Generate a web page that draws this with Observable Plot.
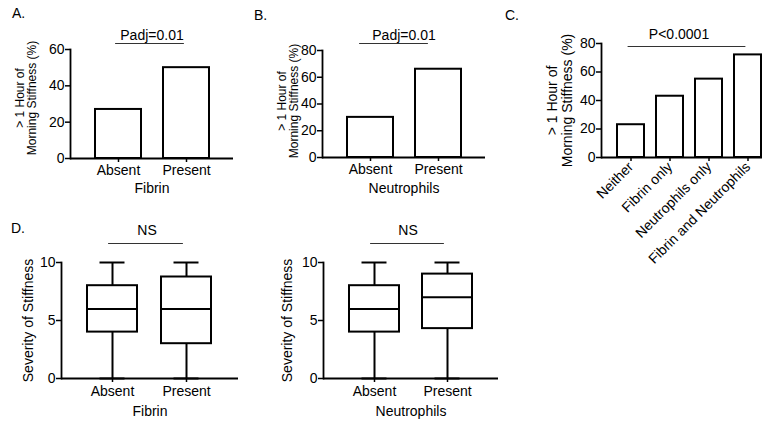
<!DOCTYPE html>
<html>
<head>
<meta charset="utf-8">
<script src="https://cdn.jsdelivr.net/npm/d3@7"></script>
<script src="https://cdn.jsdelivr.net/npm/@observablehq/plot@0.6"></script>
<style>
  html, body { margin: 0; padding: 0; background: #fff; }
  #fig { position: relative; width: 762px; height: 422px; overflow: hidden; background: #fff;
         font-family: "Liberation Sans", Arial, Helvetica, sans-serif; }
  #fig > svg, #fig > .lab { position: absolute; }
  .lab { font-size: 14px; color: #000; line-height: 1; }
</style>
</head>
<body>
<div id="fig"></div>
<script>
// ---------- data ----------
const presence = ["Absent", "Present"];
const fibrinPct = [27, 50];
const neutrophilPct = [30, 66];
const comboGroups = ["Neither", "Fibrin only", "Neutrophils only", "Fibrin and Neutrophils"];
const comboPct = [23, 43, 55, 72];

const fibrinMin = [0, 0];
const fibrinQ1 = [4, 3];
const fibrinMedian = [6, 6];
const fibrinQ3 = [8, 8.75];
const fibrinMax = [10, 10];

const neutroMin = [0, 0];
const neutroQ1 = [4, 4.3];
const neutroMedian = [6, 7];
const neutroQ3 = [8, 9];
const neutroMax = [10, 10];

const ticksA = [0, 20, 40, 60];
const ticksB = [0, 20, 40, 60, 80];
const ticksC = [0, 20, 40, 60, 80];
const ticksD = [0, 5, 10];

const stiffLabel = "> 1 Hour of\nMorning Stiffness (%)";
const severityLabel = "Severity of Stiffness";

// ---------- helpers ----------
const FONT = "Liberation Sans, Arial, Helvetica, sans-serif";
const fig = document.getElementById("fig");

function place(svg, left, top) {
  svg.style.left = left + "px";
  svg.style.top = top + "px";
  fig.appendChild(svg);
}
function letter(txt, left, top) {
  const d = document.createElement("div");
  d.className = "lab";
  d.textContent = txt;
  d.style.left = left + "px";
  d.style.top = top + "px";
  fig.appendChild(d);
}

function barPanel(o) {
  const rows = o.cats.map((c, i) => ({cat: c, v: o.vals[i]}));
  const yMax = o.ticks[o.ticks.length - 1];
  return Plot.plot({
    width: o.width, height: o.height,
    marginLeft: o.ml, marginRight: o.mr, marginTop: o.mt, marginBottom: o.mb,
    style: {fontFamily: FONT, fontSize: "14px", background: "transparent", color: "#000", overflow: "visible"},
    x: {domain: o.cats, paddingInner: o.pi, paddingOuter: o.po, align: 0.5},
    y: {domain: [0, yMax]},
    marks: [
      Plot.barY(rows, {x: "cat", y: "v", fill: "white", stroke: "black", strokeWidth: 2}),
      Plot.ruleY([0], {stroke: "black", strokeWidth: 1.8}),
      Plot.frame({anchor: "left", stroke: "black", strokeWidth: 1.8}),
      Plot.axisY({ticks: o.ticks, tickSize: 5, tickPadding: 1, label: null, strokeWidth: 1.5, fill: "black"}),
      Plot.axisX({tickSize: 4, tickPadding: o.tickPad ?? 3, label: null, strokeWidth: 1.5, fill: "black",
                  tickRotate: o.rotate ?? 0}),
      Plot.text([o.ylabel], {frameAnchor: "left", rotate: -90, dx: o.ylx, dy: o.yly,
                             textAnchor: "middle", lineAnchor: "middle",
                             fontSize: o.ylfs, lineHeight: o.ylh, fill: "black"}),
      o.xlabel ? Plot.text([o.xlabel], {frameAnchor: "bottom", dy: o.xly, lineAnchor: "middle", fill: "black"}) : null,
      Plot.line([o.cats[0], o.cats[o.cats.length - 1]], {x: d => d, y: () => yMax,
                dy: o.sigLineDy, dx: o.sigLineDx, stroke: "#333", strokeWidth: 1}),
      Plot.text([o.sig], {frameAnchor: "top", dy: o.sigDy, dx: o.sigDx ?? 0, lineAnchor: "middle", fill: "black"})
    ]
  });
}

function boxPanel(o) {
  const rows = presence.map((c, i) => ({cat: c, min: o.min[i], q1: o.q1[i], med: o.med[i], q3: o.q3[i], max: o.max[i]}));
  const yMax = ticksD[ticksD.length - 1];
  return Plot.plot({
    width: 250, height: 222,
    marginLeft: o.ml, marginRight: o.mr, marginTop: 62, marginBottom: 44,
    style: {fontFamily: FONT, fontSize: "14px", background: "transparent", color: "#000", overflow: "visible"},
    x: {domain: presence, paddingInner: 0.32, paddingOuter: 0.35, align: 0.5},
    y: {domain: [0, yMax]},
    marks: [
      Plot.ruleX(rows, {x: "cat", y1: "min", y2: "max", stroke: "black", strokeWidth: 2}),
      Plot.tickY(rows, {x: "cat", y: "max", stroke: "black", strokeWidth: 2, inset: 12.5}),
      Plot.tickY(rows, {x: "cat", y: "min", stroke: "black", strokeWidth: 2, inset: 12.5}),
      Plot.barY(rows, {x: "cat", y1: "q1", y2: "q3", fill: "white", stroke: "black", strokeWidth: 2}),
      Plot.tickY(rows, {x: "cat", y: "med", stroke: "black", strokeWidth: 2}),
      Plot.ruleY([0], {stroke: "black", strokeWidth: 1.8}),
      Plot.frame({anchor: "left", stroke: "black", strokeWidth: 1.8}),
      Plot.axisY({ticks: ticksD, tickSize: 5, tickPadding: 1, label: null, strokeWidth: 1.5, fill: "black"}),
      Plot.axisX({tickSize: 4, tickPadding: 4, label: null, strokeWidth: 1.5, fill: "black"}),
      Plot.text([severityLabel], {frameAnchor: "left", rotate: -90, dx: o.ylx,
                                  textAnchor: "middle", lineAnchor: "middle", fill: "black"}),
      Plot.text([o.xlabel], {frameAnchor: "bottom", dy: 33, lineAnchor: "middle", fill: "black"}),
      Plot.line([presence[0], presence[1]], {x: d => d, y: () => yMax, dy: -19, dx: -4, stroke: "#333", strokeWidth: 1}),
      Plot.text(["NS"], {frameAnchor: "top", dy: -32, dx: -3, lineAnchor: "middle", fill: "black"})
    ]
  });
}

// ---------- panel A ----------
place(barPanel({
  cats: presence, vals: fibrinPct, ticks: ticksA,
  width: 250, height: 205, ml: 70, mr: 17, mt: 49, mb: 47, pi: 0.33, po: 0.36,
  ylabel: stiffLabel, ylx: -44, yly: -6, ylfs: 12, ylh: 1,
  xlabel: "Fibrin", xly: 30,
  sig: "Padj=0.01", sigDy: -14, sigLineDy: -6, sigLineDx: -3
}), 0, 0);

// ---------- panel B ----------
place(barPanel({
  cats: presence, vals: neutrophilPct, ticks: ticksB,
  width: 250, height: 205, ml: 72, mr: 15, mt: 50, mb: 48, pi: 0.33, po: 0.36,
  ylabel: stiffLabel, ylx: -34, yly: -3, ylfs: 12, ylh: 0.95,
  xlabel: "Neutrophils", xly: 31,
  sig: "Padj=0.01", sigDy: -15, sigLineDy: -7, sigLineDx: -11
}), 250, 0);

// ---------- panel C ----------
place(barPanel({
  cats: comboGroups, vals: comboPct, ticks: ticksC,
  width: 270, height: 280, ml: 81, mr: 14, mt: 43, mb: 123, pi: 0.31, po: 0.38,
  ylabel: stiffLabel, ylx: -42, yly: 0, ylfs: 14, ylh: 1.08,
  xlabel: null, rotate: -45, tickPad: 3,
  sig: "P<0.0001", sigDy: -9, sigDx: -10, sigLineDy: 3, sigLineDx: -3
}), 520, 0);

// ---------- panel D ----------
place(boxPanel({min: fibrinMin, q1: fibrinQ1, med: fibrinMedian, q3: fibrinQ3, max: fibrinMax,
                ml: 61, mr: 12, ylx: -33, xlabel: "Fibrin"}), 0, 200);
place(boxPanel({min: neutroMin, q1: neutroQ1, med: neutroMedian, q3: neutroQ3, max: neutroMax,
                ml: 63, mr: 12, ylx: -36, xlabel: "Neutrophils"}), 260, 200);

// ---------- panel letters ----------
letter("A.", 12, 6);
letter("B.", 254, 8);
letter("C.", 505, 8);
letter("D.", 11, 221);
</script>
</body>
</html>
